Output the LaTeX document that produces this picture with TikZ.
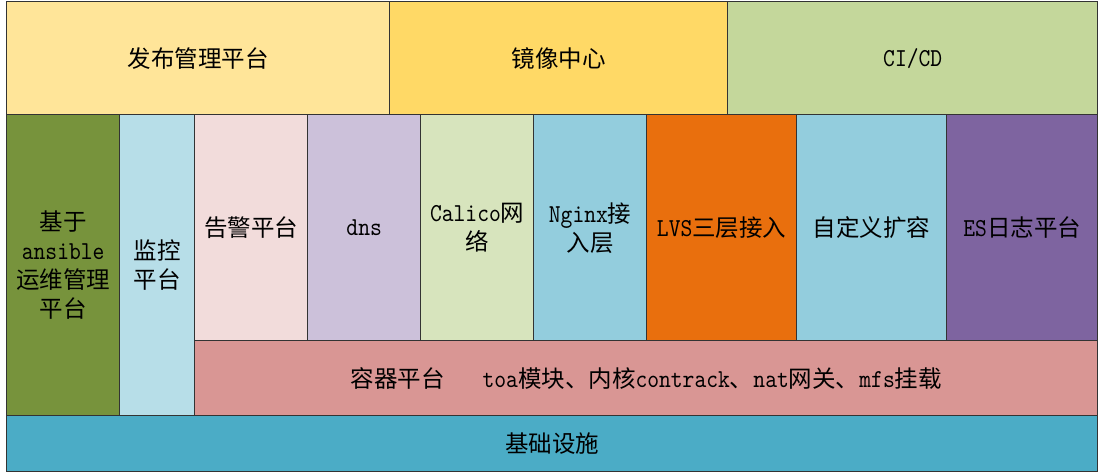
\documentclass[tikz,border=0pt]{standalone}
\usepackage{fontspec}
\setmainfont{Noto Sans CJK SC}
\newfontfamily\latf{lmmono10-regular}[Extension=.otf,Scale=1.1,FakeStretch=0.87]
\newcommand\lt[1]{{\latf #1}}
\definecolor{cFabu}{HTML}{FFE599}
\definecolor{cJing}{HTML}{FFD966}
\definecolor{cCicd}{HTML}{C4D79B}
\definecolor{cAns}{HTML}{77933C}
\definecolor{cJian}{HTML}{B7DEE8}
\definecolor{cGao}{HTML}{F2DCDB}
\definecolor{cDns}{HTML}{CCC1DA}
\definecolor{cCal}{HTML}{D7E4BD}
\definecolor{cNgx}{HTML}{93CDDD}
\definecolor{cLvs}{HTML}{E96F0D}
\definecolor{cZdy}{HTML}{93CDDD}
\definecolor{cEs}{HTML}{7E64A0}
\definecolor{cRq}{HTML}{D99694}
\definecolor{cJc}{HTML}{4BACC6}
\definecolor{cBorder}{HTML}{333333}
\begin{document}
\begin{tikzpicture}[x=1pt,y=-1pt,
  box/.style={draw=cBorder, line width=1.4pt, inner sep=0pt, anchor=north west,
    align=center, font=\fontsize{23.5}{29}\selectfont, text=black}]
\fill[white] (0,0) rectangle (1100,473);
\useasboundingbox (0,0) rectangle (1100,473);
% top row
\node[box, fill=cFabu, minimum width=383, minimum height=113] (fabu) at (6,1) {发布管理平台};
\node[box, fill=cJing, minimum width=338, minimum height=113] (jing) at (389,1) {镜像中心};
\node[box, fill=cCicd, minimum width=370, minimum height=113] (cicd) at (727,1) {\lt{CI/CD}};
% left columns
\node[box, fill=cAns, minimum width=113, minimum height=301] (ans) at (6,114) {基于\\\lt{ansible}\\运维管理\\平台};
\node[box, fill=cJian, minimum width=75, minimum height=301] (jian) at (119,114) {监控\\平台};
% middle row
\node[box, fill=cGao, minimum width=113, minimum height=226] (gao) at (194,114) {告警平台};
\node[box, fill=cDns, minimum width=113, minimum height=226] (dns) at (307,114) {\lt{dns}};
\node[box, fill=cCal, minimum width=113, minimum height=226] (cal) at (420,114) {\lt{Calico}网\\络};
\node[box, fill=cNgx, minimum width=113, minimum height=226] (ngx) at (533,114) {\lt{Nginx}接\\入层};
\node[box, fill=cLvs, minimum width=150, minimum height=226] (lvs) at (646,114) {\lt{LVS}三层接入};
\node[box, fill=cZdy, minimum width=150, minimum height=226] (zdy) at (796,114) {自定义扩容};
\node[box, fill=cEs, minimum width=151, minimum height=226] (es) at (946,114) {\lt{ES}日志平台};
% container platform
\node[box, fill=cRq, minimum width=903, minimum height=75] (rq) at (194,340) {容器平台\hspace{38pt}\lt{toa}模块、内核\lt{contrack}、\lt{nat}网关、\lt{mfs}挂载};
% infrastructure
\node[box, fill=cJc, minimum width=1091, minimum height=56] (jc) at (6,415) {基础设施};
\end{tikzpicture}
\end{document}
